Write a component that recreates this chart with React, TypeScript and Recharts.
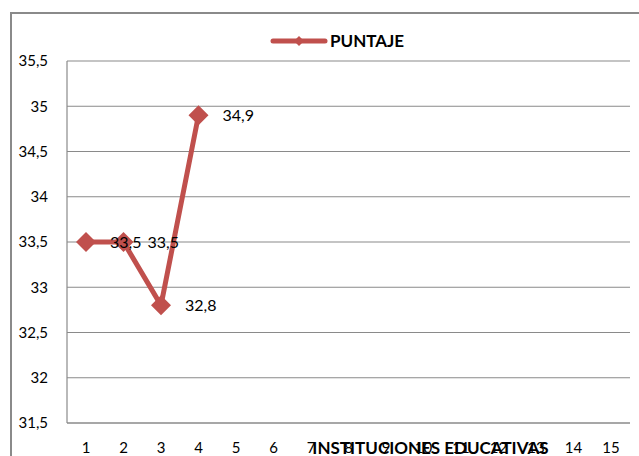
import React from "react";
import {
  LineChart,
  Line,
  XAxis,
  YAxis,
  CartesianGrid,
  LabelList,
} from "recharts";

// instituciones 1..15, solo las 4 primeras tienen puntaje
const instituciones = [
  "1", "2", "3", "4", "5", "6", "7", "8", "9", "10", "11", "12", "13", "14", "15",
];
const puntaje: (number | null)[] = [33.5, 33.5, 32.8, 34.9];
const yTicks = [31.5, 32, 32.5, 33, 33.5, 34, 34.5, 35, 35.5];

const data = instituciones.map((inst, i) => ({
  inst,
  puntaje: puntaje[i] ?? null,
}));

const ROJO = "#C0504D";
const GRIS = "#8a8a8a";
const FONT = "Lato, 'Open Sans', sans-serif";

const fmt = (v: number) => String(v).replace(".", ",");

const Diamante = (props: any) => {
  const { cx, cy, value } = props;
  if (value == null || cx == null || cy == null) return null;
  const r = 10;
  return (
    <polygon
      points={`${cx},${cy - r} ${cx + r},${cy} ${cx},${cy + r} ${cx - r},${cy}`}
      fill={ROJO}
    />
  );
};

const Etiqueta = (props: any) => {
  const { x, y, value } = props;
  if (value == null) return null;
  return (
    <text
      x={x + 24}
      y={y}
      dy="0.35em"
      fontSize={16}
      fontFamily={FONT}
      fill="#000"
    >
      {fmt(value)}
    </text>
  );
};

// leyenda dibujada aparte para que no empuje el área de trazado
const Leyenda = () => (
  <div
    style={{
      position: "absolute",
      left: 270,
      top: 31,
      display: "flex",
      alignItems: "center",
    }}
  >
    <svg width={58} height={14}>
      <line x1={3} y1={7} x2={55} y2={7} stroke={ROJO} strokeWidth={5} strokeLinecap="round" />
      <polygon points="29,2 34,7 29,12 24,7" fill={ROJO} />
    </svg>
    <span
      style={{
        fontFamily: FONT,
        fontWeight: 700,
        fontSize: 17,
        color: "#000",
        marginLeft: 2,
        lineHeight: "20px",
      }}
    >
      PUNTAJE
    </span>
  </div>
);

export default function App() {
  return (
    <div
      style={{
        position: "absolute",
        left: 0,
        top: 0,
        width: 639,
        height: 456,
        overflow: "hidden",
        background: "#fff",
      }}
    >
      <div
        style={{
          position: "absolute",
          left: 10,
          top: 12,
          width: 700,
          height: 500,
          borderLeft: `2px solid ${GRIS}`,
          borderTop: `2px solid ${GRIS}`,
        }}
      />
      <Leyenda />
      <div style={{ position: "absolute", left: 0, top: 0 }}>
        <LineChart
          width={639}
          height={456}
          data={data}
          margin={{ top: 61, right: 9, bottom: 0, left: 0 }}
        >
          <CartesianGrid vertical={false} stroke={GRIS} strokeWidth={1.2} />
          <XAxis
            dataKey="inst"
            height={33}
            padding={{ left: 19, right: 19 }}
            tickLine={false}
            tickSize={0}
            tickMargin={19}
            axisLine={{ stroke: GRIS, strokeWidth: 1.2 }}
            tick={{ fill: "#000", fontSize: 15, fontFamily: FONT }}
            interval={0}
            label={{
              value: "INSTITUCIONES EDUCATIVAS",
              position: "insideBottom",
              offset: 2,
              dx: 82,
              fill: "#000",
              fontSize: 17,
              fontWeight: 700,
              fontFamily: FONT,
            }}
          />
          <YAxis
            width={67}
            domain={[31.5, 35.5]}
            ticks={yTicks}
            tickFormatter={fmt}
            tickLine={false}
            tickSize={0}
            tickMargin={19}
            axisLine={{ stroke: GRIS, strokeWidth: 1.2 }}
            tick={{ fill: "#000", fontSize: 15, fontFamily: FONT }}
            allowDataOverflow
          />
          <Line
            dataKey="puntaje"
            name="PUNTAJE"
            stroke={ROJO}
            strokeWidth={5}
            dot={<Diamante />}
            activeDot={false}
            isAnimationActive={false}
          >
            <LabelList dataKey="puntaje" content={<Etiqueta />} />
          </Line>
        </LineChart>
      </div>
    </div>
  );
}
